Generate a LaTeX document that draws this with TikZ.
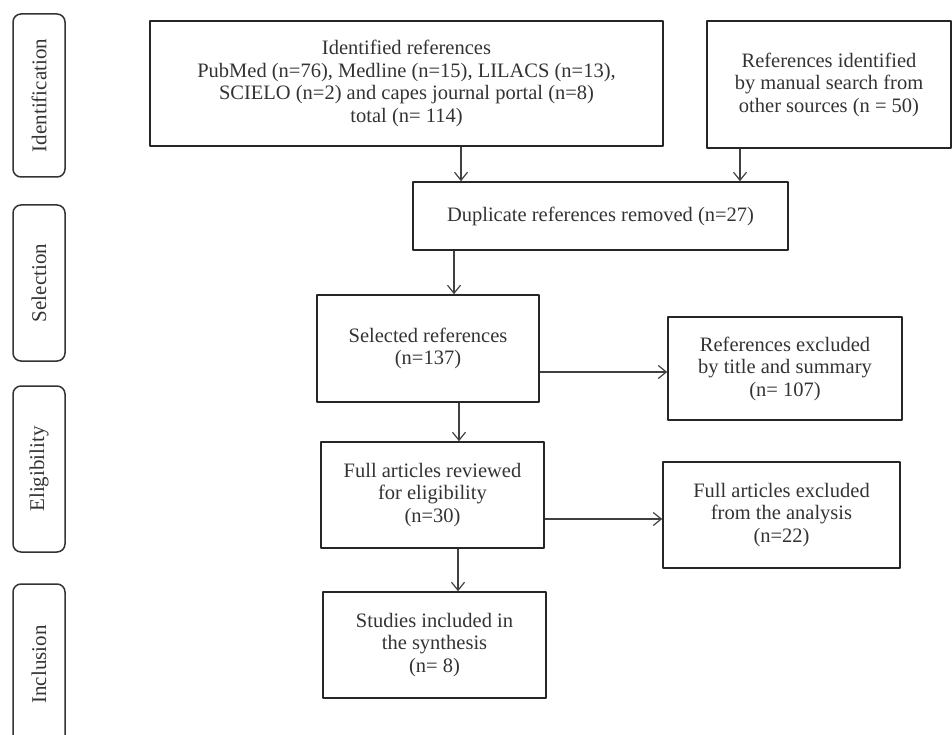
\documentclass[tikz,border=0pt]{standalone}
\usepackage{fontspec}
\setmainfont{Liberation Serif}
\usepackage{tikz}
\usetikzlibrary{arrows.meta}

\begin{document}
\begin{tikzpicture}[x=1pt,y=-1pt,>={Straight Barb[length=8pt,width=13pt]},line join=round,
  box/.style={draw=black!85,line width=1.6pt,align=center,inner sep=0pt,
    font=\fontsize{20.5}{22.5}\selectfont,text=black!80},
  phase/.style={draw=black!80,line width=1.5pt,rounded corners=8pt,inner sep=0pt,
    rotate=90,minimum height=52pt,font=\fontsize{21}{24}\selectfont,text=black!80},
  arr/.style={->,line width=1.2pt,draw=black!75}]
  \useasboundingbox (0,0) rectangle (952,735);
  % phases
  \node[phase,minimum width=163pt] (phId) at (39,95.5) {Identification};
  \node[phase,minimum width=156pt] (phSel) at (39,283) {Selection};
  \node[phase,minimum width=166pt] (phElig) at (39,469) {Eligibility};
  \node[phase,minimum width=161pt] (phIncl) at (39,664.5) {Inclusion};
  % boxes
  \node[box,minimum width=513pt,minimum height=125pt] (ident) at (406.5,83.5)
    {Identified references\\PubMed (n=76), Medline (n=15), LILACS (n=13),\\SCIELO (n=2) and capes journal portal (n=8)\\total (n= 114)};
  \node[box,minimum width=244pt,minimum height=127pt] (other) at (829,84.5)
    {References identified\\by manual search from\\other sources (n = 50)};
  \node[box,minimum width=375pt,minimum height=68pt] (dup) at (600.5,216)
    {Duplicate references removed (n=27)};
  \node[box,minimum width=222pt,minimum height=107pt] (sel) at (428,348.5)
    {Selected references\\(n=137)};
  \node[box,minimum width=234pt,minimum height=103pt] (exTitle) at (785,368.5)
    {References excluded\\by title and summary\\(n= 107)};
  \node[box,minimum width=223pt,minimum height=106pt] (full) at (432.5,495)
    {Full articles reviewed\\for eligibility\\(n=30)};
  \node[box,minimum width=237pt,minimum height=106pt] (exFull) at (781.5,515)
    {Full articles excluded\\from the analysis\\(n=22)};
  \node[box,minimum width=223pt,minimum height=106pt] (incl) at (434.5,645)
    {Studies included in\\the synthesis\\(n= 8)};
  % arrows
  \draw[arr] ([xshift=54.5pt]ident.south) -- ([xshift=54.5pt]ident.south |- dup.north);
  \draw[arr] ([xshift=-89pt]other.south) -- ([xshift=-89pt]other.south |- dup.north);
  \draw[arr] ([xshift=26pt]sel.north |- dup.south) -- ([xshift=26pt]sel.north);
  \draw[arr] ([yshift=-23.5pt]sel.east) -- ([yshift=-23.5pt]sel.east -| exTitle.west);
  \draw[arr] ([xshift=31pt]sel.south) -- ([xshift=31pt]sel.south |- full.north);
  \draw[arr] ([yshift=-24pt]full.east) -- ([yshift=-24pt]full.east -| exFull.west);
  \draw[arr] ([xshift=25.5pt]full.south) -- ([xshift=25.5pt]full.south |- incl.north);
\end{tikzpicture}
\end{document}
